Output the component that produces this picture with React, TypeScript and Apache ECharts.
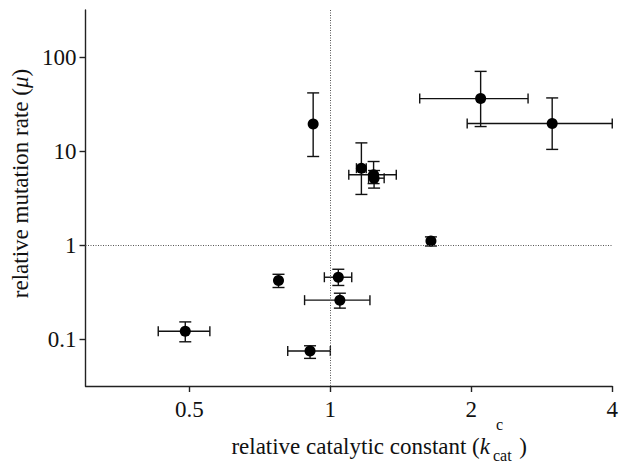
import { useEffect, useRef } from "react";
import * as echarts from "echarts";

// relative catalytic constant (k_cat^c) and its error range
const kcat = [0.49, 0.775, 0.905, 1.04, 1.048, 1.64, 0.919, 1.165, 1.237, 1.24, 2.094, 2.977];
const kcatLo = [0.429, 0.775, 0.811, 0.971, 0.881, 1.64, 0.919, 1.137, 1.095, 1.207, 1.552, 1.96];
const kcatHi = [0.553, 0.775, 1.0, 1.111, 1.215, 1.64, 0.919, 1.193, 1.383, 1.303, 2.644, 4.0];
// relative mutation rate (mu) and its error range
const mu = [0.121, 0.419, 0.0744, 0.454, 0.259, 1.1, 19.4, 6.57, 5.59, 5.14, 36.1, 19.6];
const muLo = [0.0934, 0.353, 0.0622, 0.371, 0.213, 0.976, 8.74, 3.45, 4.5, 4.03, 18.2, 10.4];
const muHi = [0.152, 0.488, 0.0847, 0.552, 0.307, 1.22, 41.5, 12.2, 7.73, 6.2, 70.3, 36.7];

const xTicks = [0.5, 1, 2, 4];
const yTicks = [0.1, 1, 10, 100];

const FONT = "Liberation Serif";
const INK = "#111";

export default function App() {
  const ref = useRef<HTMLDivElement>(null);
  useEffect(() => {
    const chart = echarts.init(ref.current!, null, { renderer: "svg" });
    const errData = kcat.map((x, i) => [x, mu[i], kcatLo[i], kcatHi[i], muLo[i], muHi[i]]);
    const renderItem = (_params: any, api: any) => {
      const x = api.value(0);
      const y = api.value(1);
      const xl = api.value(2);
      const xh = api.value(3);
      const yl = api.value(4);
      const yh = api.value(5);
      const c = api.coord([x, y]);
      const style = { stroke: INK, lineWidth: 1.4 };
      const children: any[] = [];
      if (yh > yl) {
        const t = api.coord([x, yh]);
        const b = api.coord([x, yl]);
        children.push({ type: "line", shape: { x1: c[0], y1: t[1], x2: c[0], y2: b[1] }, style });
        children.push({ type: "line", shape: { x1: c[0] - 6, y1: t[1], x2: c[0] + 6, y2: t[1] }, style });
        children.push({ type: "line", shape: { x1: c[0] - 6, y1: b[1], x2: c[0] + 6, y2: b[1] }, style });
      }
      if (xh > xl) {
        const l = api.coord([xl, y]);
        const r = api.coord([xh, y]);
        children.push({ type: "line", shape: { x1: l[0], y1: c[1], x2: r[0], y2: c[1] }, style });
        children.push({ type: "line", shape: { x1: l[0], y1: c[1] - 5, x2: l[0], y2: c[1] + 5 }, style });
        children.push({ type: "line", shape: { x1: r[0], y1: c[1] - 5, x2: r[0], y2: c[1] + 5 }, style });
      }
      return { type: "group", children };
    };
    const axisCommon = {
      axisLine: { show: true, lineStyle: { color: "#222", width: 1.4 } },
      splitLine: { show: false },
      minorTick: { show: false },
    };
    const labelCommon = {
      color: "#111",
      fontSize: 23,
      fontFamily: FONT,
      formatter: (v: number) => String(v),
    };
    chart.setOption({
      animation: false,
      backgroundColor: "#fff",
      textStyle: { fontFamily: FONT },
      grid: { left: 85.5, right: 3.7, top: 10, bottom: 78, containLabel: false },
      xAxis: {
        type: "log",
        logBase: 2,
        min: 0.3,
        max: 4,
        ...axisCommon,
        axisTick: { show: true, customValues: xTicks, length: 6, lineStyle: { color: "#222", width: 1.4 } },
        axisLabel: { customValues: xTicks, margin: 12, ...labelCommon },
      },
      yAxis: {
        type: "log",
        logBase: 10,
        min: Math.pow(10, -1.5),
        max: Math.pow(10, 2.5),
        ...axisCommon,
        axisTick: { show: true, customValues: yTicks, length: 6, lineStyle: { color: "#222", width: 1.4 } },
        axisLabel: { customValues: yTicks, margin: 9, ...labelCommon },
      },
      series: [
        {
          type: "custom",
          renderItem,
          data: errData,
          encode: { x: 0, y: 1 },
          silent: true,
          z: 2,
        },
        {
          type: "scatter",
          data: kcat.map((x, i) => [x, mu[i]]),
          symbol: "circle",
          symbolSize: 11,
          itemStyle: { color: "#000", opacity: 1 },
          silent: true,
          z: 3,
          markLine: {
            silent: true,
            symbol: ["none", "none"],
            label: { show: false },
            lineStyle: { type: [1, 1.5], color: "#555", width: 1, opacity: 1 },
            data: [{ xAxis: 1 }, { yAxis: 1 }],
          },
        },
      ],
      graphic: [
        {
          type: "text",
          x: 20,
          y: 183.5,
          rotation: Math.PI / 2,
          style: {
            text: "relative mutation rate ({i|μ})",
            fontSize: 23,
            fontFamily: FONT,
            fill: INK,
            align: "center",
            verticalAlign: "middle",
            rich: { i: { fontStyle: "italic", fontSize: 23, fontFamily: FONT, fill: INK } },
          },
        },
        {
          type: "text",
          x: 490,
          y: 446,
          style: {
            text: "relative catalytic constant ({i|k}",
            fontSize: 23,
            fontFamily: FONT,
            fill: INK,
            align: "right",
            verticalAlign: "middle",
            rich: { i: { fontStyle: "italic", fontSize: 23, fontFamily: FONT, fill: INK } },
          },
        },
        {
          type: "text",
          x: 496,
          y: 424,
          style: { text: "c", fontSize: 16, fontFamily: FONT, fill: INK, align: "left", verticalAlign: "middle" },
        },
        {
          type: "text",
          x: 493,
          y: 455,
          style: { text: "cat", fontSize: 16, fontFamily: FONT, fill: INK, align: "left", verticalAlign: "middle" },
        },
        {
          type: "text",
          x: 527,
          y: 446,
          style: { text: ")", fontSize: 23, fontFamily: FONT, fill: INK, align: "right", verticalAlign: "middle" },
        },
      ],
    });
    return () => chart.dispose();
  }, []);
  return <div ref={ref} style={{ position: "fixed", left: 0, top: 0, width: 621, height: 464 }} />;
}
